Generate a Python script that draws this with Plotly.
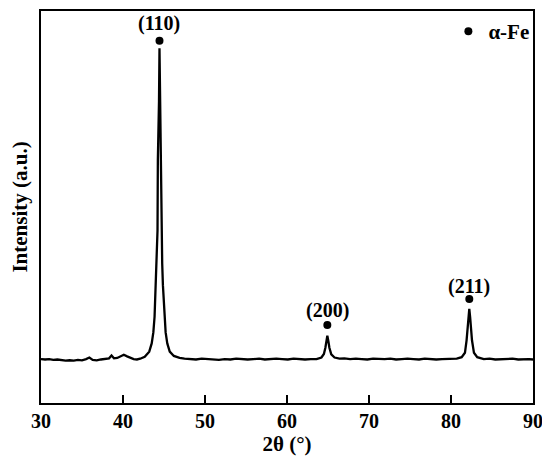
import plotly.graph_objects as go

# XRD pattern (2theta in degrees, intensity in a.u.)
two_theta = [
    30.0, 30.5, 31.0, 31.5, 32.0, 32.5, 33.0, 33.5, 34.0, 34.5, 35.0, 35.5,
    35.9, 36.3, 36.8, 37.3, 37.8, 38.3, 38.6, 38.9, 39.3, 39.7, 40.1, 40.5,
    40.9, 41.3, 41.7, 42.1, 42.65, 43.2, 43.5, 43.7, 43.85, 43.93, 44.03,
    44.12, 44.21, 44.25, 44.33, 44.39, 44.45, 44.51, 44.57, 44.65, 44.69,
    44.78, 44.87, 44.97, 45.05, 45.2, 45.4, 45.7, 46.2, 46.9, 47.5, 48.2,
    48.9, 49.6, 50.3, 51.0, 51.7, 52.4, 53.1, 53.8, 54.5, 55.2, 55.9, 56.6,
    57.3, 58.0, 58.7, 59.4, 60.1, 60.8, 61.5, 62.2, 62.9, 63.6, 64.2, 64.5,
    64.68, 64.8, 64.92, 65.04, 65.17, 65.4, 65.8, 66.4, 67.0, 67.7, 68.4,
    69.1, 69.8, 70.5, 71.2, 71.9, 72.6, 73.3, 74.0, 74.7, 75.4, 76.1, 76.8,
    77.5, 78.2, 78.9, 79.6, 80.2, 80.7, 81.3, 81.7, 81.9, 82.03, 82.13,
    82.23, 82.33, 82.43, 82.56, 82.8, 83.2, 84.0, 84.7, 85.4, 86.1, 86.8,
    87.5, 88.2, 88.9, 89.5, 90.0,
]
intensity = [
    112, 111, 112, 110, 111, 109, 108, 109, 108, 110, 109, 112,
    116, 110, 109, 111, 112, 114, 121, 114, 115, 118, 123, 119,
    115, 112, 111, 113, 118, 131, 152, 180, 220, 263, 300,
    356, 440, 620, 690, 770, 905, 770, 690, 620, 440,
    356, 300, 263, 220, 180, 152, 131, 120, 115, 113, 112,
    111, 113, 112, 111, 110, 112, 111, 113, 112, 111, 112, 113,
    111, 112, 113, 112, 111, 113, 112, 111, 112, 112, 116, 125,
    141, 158, 172, 158, 141, 124, 116, 113, 114, 112, 113,
    112, 111, 113, 112, 112, 113, 111, 112, 113, 112, 111, 113,
    112, 111, 112, 113, 112, 113, 117, 128, 160, 190, 220,
    240, 220, 190, 160, 128, 117, 112, 113, 111, 112, 112,
    113, 111, 112, 112, 111,
]

# alpha-Fe reflections: position, marker height, label height
peak_labels = ["(110)", "(200)", "(211)"]
peak_pos = [44.45, 64.92, 82.23]
peak_marker = [924, 199, 265]
peak_text = [967, 235, 298]

FONT = "Liberation Serif"

fig = go.Figure()
fig.add_trace(go.Scatter(
    x=two_theta, y=intensity, mode="lines",
    line=dict(color="black", width=2.3), showlegend=False,
))
fig.add_trace(go.Scatter(
    x=peak_pos, y=peak_marker, mode="markers", name="<b>α-Fe</b>",
    marker=dict(color="black", size=8),
))
for lab, x, y in zip(peak_labels, peak_pos, peak_text):
    fig.add_annotation(x=x, y=y, text=f"<b>{lab}</b>", showarrow=False,
                       font=dict(family=FONT, size=20, color="black"))

# page body has an 8px margin, so the figure is a bit smaller than the window
fig.update_layout(
    width=542, height=458,
    margin=dict(l=33, r=17, t=1, b=63),
    paper_bgcolor="white", plot_bgcolor="white",
    font=dict(family=FONT, color="black"),
    legend=dict(x=0.828, y=1.0, xanchor="left", yanchor="top",
                bgcolor="rgba(0,0,0,0)", font=dict(size=21),
                itemwidth=30),
)
fig.update_xaxes(
    range=[30, 90], dtick=10, tick0=30,
    showline=True, linecolor="black", linewidth=2, mirror=True,
    ticks="inside", ticklen=8, tickwidth=2, tickcolor="black",
    showgrid=False, zeroline=False,
    tickfont=dict(family=FONT, size=20, weight="bold"),
    ticklabelstandoff=-1,
    title=dict(text="<b>2θ (°)</b>", font=dict(family=FONT, size=21), standoff=1),
)
fig.update_yaxes(
    range=[0, 1000], showticklabels=False, ticks="",
    showline=True, linecolor="black", linewidth=2, mirror=True,
    showgrid=False, zeroline=False,
    title=dict(text="<b>Intensity (a.u.)</b>", font=dict(family=FONT, size=21), standoff=7),
)

fig.write_html("out.html")
